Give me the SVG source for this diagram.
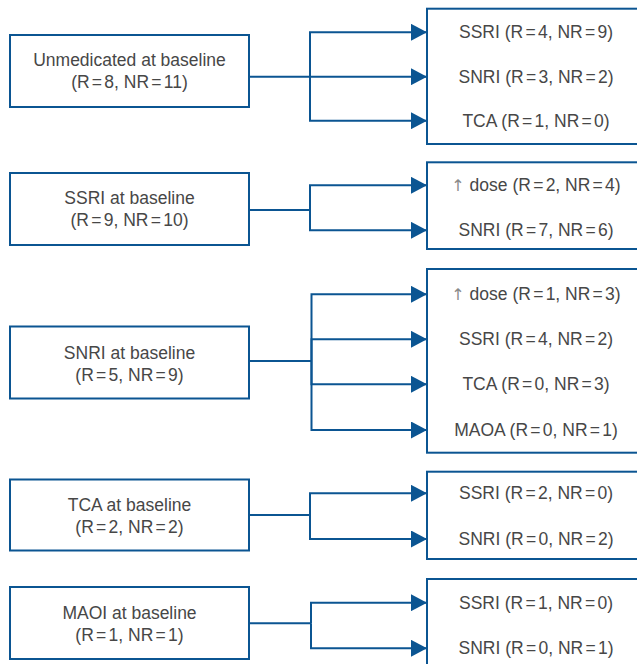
<svg xmlns="http://www.w3.org/2000/svg" width="637" height="664" viewBox="0 0 637 664">
<style>
.box{fill:#fff;stroke:#0b5592;stroke-width:2}
.ln{fill:none;stroke:#0b5592;stroke-width:2;marker-end:url(#ah)}
.ln0{fill:none;stroke:#0b5592;stroke-width:2}
text{font-family:"Liberation Sans",Arial,sans-serif;font-size:17.5px;fill:#474747;text-anchor:middle}
.e{word-spacing:-2.6px}
.up{fill:#8a8a8a;font-family:"DejaVu Sans",sans-serif;font-size:16px}
</style>
<defs>
<marker id="ah" markerUnits="userSpaceOnUse" markerWidth="16" markerHeight="17" refX="16" refY="8.5" orient="auto">
<path d="M0,0 L16,8.5 L0,17 z" fill="#0b5592"/>
</marker>
</defs>
<rect width="637" height="664" fill="#fff"/>
<g id="connectors">
<path class="ln" d="M249,76.7 H427"/>
<path class="ln" d="M310,76.7 V32.3 H427"/>
<path class="ln" d="M310,76.7 V120.7 H427"/>
<path class="ln0" d="M249,210 H310"/>
<path class="ln" d="M310,210 V185.3 H427"/>
<path class="ln" d="M310,210 V230.3 H427"/>
<path class="ln0" d="M249,361 H311.5"/>
<path class="ln" d="M311.5,361 V294.3 H427"/>
<path class="ln" d="M311.5,361 V339.3 H427"/>
<path class="ln" d="M311.5,361 V384.3 H427"/>
<path class="ln" d="M311.5,361 V430 H427"/>
<path class="ln0" d="M249,515 H310"/>
<path class="ln" d="M310,515 V493.3 H427"/>
<path class="ln" d="M310,515 V539 H427"/>
<path class="ln0" d="M249,623.3 H311"/>
<path class="ln" d="M311,623.3 V602.7 H427"/>
<path class="ln" d="M311,623.3 V648.3 H427"/>
</g>
<g id="unmedicated">
<rect class="box" x="10" y="35" width="239" height="72"/>
<text x="129.5" y="66">Unmedicated at baseline</text>
<text x="129.5" y="88">(R<tspan class="e"> = </tspan>8, NR<tspan class="e"> = </tspan>11)</text>
</g>
<g id="unmedicated-out">
<rect class="box" x="427" y="8.7" width="222" height="135.3"/>
<text x="536" y="38">SSRI (R<tspan class="e"> = </tspan>4, NR<tspan class="e"> = </tspan>9)</text>
<text x="536" y="82.5">SNRI (R<tspan class="e"> = </tspan>3, NR<tspan class="e"> = </tspan>2)</text>
<text x="536" y="126.5">TCA (R<tspan class="e"> = </tspan>1, NR<tspan class="e"> = </tspan>0)</text>
</g>
<g id="ssri">
<rect class="box" x="10" y="173" width="239" height="72"/>
<text x="129.5" y="204">SSRI at baseline</text>
<text x="129.5" y="226">(R<tspan class="e"> = </tspan>9, NR<tspan class="e"> = </tspan>10)</text>
</g>
<g id="ssri-out">
<rect class="box" x="427" y="162.3" width="222" height="86.7"/>
<text x="536" y="191"><tspan class="up">↑</tspan> dose (R<tspan class="e"> = </tspan>2, NR<tspan class="e"> = </tspan>4)</text>
<text x="536" y="236">SNRI (R<tspan class="e"> = </tspan>7, NR<tspan class="e"> = </tspan>6)</text>
</g>
<g id="snri">
<rect class="box" x="10" y="326.5" width="239" height="72"/>
<text x="129.5" y="358.5">SNRI at baseline</text>
<text x="129.5" y="380.5">(R<tspan class="e"> = </tspan>5, NR<tspan class="e"> = </tspan>9)</text>
</g>
<g id="snri-out">
<rect class="box" x="427" y="269" width="222" height="183.7"/>
<text x="536" y="300"><tspan class="up">↑</tspan> dose (R<tspan class="e"> = </tspan>1, NR<tspan class="e"> = </tspan>3)</text>
<text x="536" y="345">SSRI (R<tspan class="e"> = </tspan>4, NR<tspan class="e"> = </tspan>2)</text>
<text x="536" y="390">TCA (R<tspan class="e"> = </tspan>0, NR<tspan class="e"> = </tspan>3)</text>
<text x="536" y="436">MAOA (R<tspan class="e"> = </tspan>0, NR<tspan class="e"> = </tspan>1)</text>
</g>
<g id="tca">
<rect class="box" x="10" y="479.5" width="239" height="71"/>
<text x="129.5" y="511">TCA at baseline</text>
<text x="129.5" y="533">(R<tspan class="e"> = </tspan>2, NR<tspan class="e"> = </tspan>2)</text>
</g>
<g id="tca-out">
<rect class="box" x="427" y="471.7" width="222" height="87.3"/>
<text x="536" y="499">SSRI (R<tspan class="e"> = </tspan>2, NR<tspan class="e"> = </tspan>0)</text>
<text x="536" y="545">SNRI (R<tspan class="e"> = </tspan>0, NR<tspan class="e"> = </tspan>2)</text>
</g>
<g id="maoi">
<rect class="box" x="10" y="587" width="239" height="72"/>
<text x="129.5" y="618.5">MAOI at baseline</text>
<text x="129.5" y="640.5">(R<tspan class="e"> = </tspan>1, NR<tspan class="e"> = </tspan>1)</text>
</g>
<g id="maoi-out">
<rect class="box" x="427" y="579" width="222" height="100"/>
<text x="536" y="608.5">SSRI (R<tspan class="e"> = </tspan>1, NR<tspan class="e"> = </tspan>0)</text>
<text x="536" y="654">SNRI (R<tspan class="e"> = </tspan>0, NR<tspan class="e"> = </tspan>1)</text>
</g>
</svg>
